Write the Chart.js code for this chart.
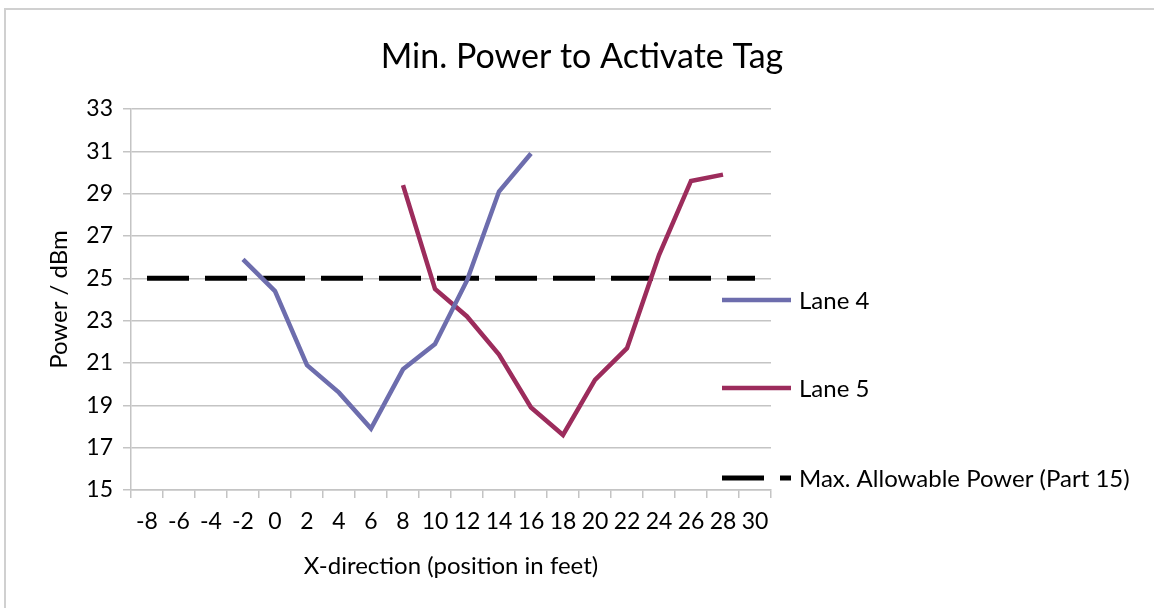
<!DOCTYPE html>
<html>
<head>
<meta charset="utf-8">
<script src="https://cdn.jsdelivr.net/npm/chart.js@4/dist/chart.umd.min.js"></script>
<style>
  html, body { margin: 0; padding: 0; background: #fff; }
  #wrap { position: relative; width: 1154px; height: 608px; }
  #frame { position: absolute; left: 4px; top: 8px; right: 0; bottom: 0; border-top: 2px solid #d0d0d0; border-left: 2px solid #d0d0d0; pointer-events: none; }
</style>
</head>
<body>
<div id="wrap">
  <canvas id="chart" width="1154" height="608"></canvas>
  <div id="frame"></div>
</div>
<script>
// x positions (feet)
const positions = ['-8', '-6', '-4', '-2', '0', '2', '4', '6', '8', '10', '12', '14', '16', '18', '20', '22', '24', '26', '28', '30'];

// min power (dBm) per position
const lane4 = [null, null, null, 25.9, 24.4, 20.9, 19.6, 17.9, 20.7, 21.9, 24.9, 29.1, 30.9, null, null, null, null, null, null, null];
const lane5 = [null, null, null, null, null, null, null, null, 29.4, 24.5, 23.2, 21.4, 18.9, 17.6, 20.2, 21.7, 26.1, 29.6, 29.9, null];
const maxAllowed = [25, 25, 25, 25, 25, 25, 25, 25, 25, 25, 25, 25, 25, 25, 25, 25, 25, 25, 25, 25];

const yTicks = [15, 17, 19, 21, 23, 25, 27, 29, 31, 33];

const FONT = 'Lato, "DejaVu Sans", sans-serif';
const GRID = '#c4c4c4';
const INK = '#000';

// title + legend drawn by hand so they sit where the original has them
const decorations = {
    id: 'decorations',
    afterDraw(chart) {
        const ctx = chart.ctx;
        ctx.save();
        ctx.fillStyle = INK;
        ctx.font = '34px ' + FONT;
        ctx.textAlign = 'center';
        ctx.textBaseline = 'middle';
        ctx.fillText('Min. Power to Activate Tag', 582, 57);

        const rows = [300, 388, 478];
        chart.data.datasets.forEach((ds, i) => {
            const y = rows[i];
            ctx.beginPath();
            ctx.strokeStyle = ds.borderColor;
            ctx.lineWidth = ds.borderWidth;
            ctx.setLineDash(ds.borderDash || []);
            ctx.moveTo(722, y);
            ctx.lineTo(791, y);
            ctx.stroke();
            ctx.setLineDash([]);
            ctx.fillStyle = INK;
            ctx.font = '24px ' + FONT;
            ctx.textAlign = 'left';
            ctx.fillText(ds.label, 799, y + 1);
        });
        ctx.restore();
    }
};

new Chart(document.getElementById('chart'), {
    type: 'line',
    data: {
        labels: positions,
        datasets: [
            { label: 'Lane 4', data: lane4, borderColor: '#6d6dad', borderWidth: 4.5, pointRadius: 0, tension: 0 },
            { label: 'Lane 5', data: lane5, borderColor: '#9c2c5c', borderWidth: 4.5, pointRadius: 0, tension: 0 },
            { label: 'Max. Allowable Power (Part 15)', data: maxAllowed, borderColor: '#000', borderWidth: 5, borderDash: [42, 16], borderCapStyle: 'butt', pointRadius: 0 }
        ]
    },
    options: {
        responsive: false,
        animation: false,
        layout: { padding: { left: 0, right: 383, top: 109, bottom: 0 } },
        plugins: {
            legend: { display: false },
            title: { display: false },
            tooltip: { enabled: false }
        },
        scales: {
            x: {
                offset: true,
                afterFit: s => { s.height = 118; },
                grid: { offset: true, drawOnChartArea: false, drawTicks: true, tickLength: 8, color: GRID, lineWidth: 1.5 },
                border: { color: GRID, width: 1.5 },
                ticks: { color: INK, font: { family: FONT, size: 23 }, padding: 10, maxRotation: 0, autoSkip: false },
                title: { display: true, text: 'X-direction (position in feet)', color: INK, font: { family: FONT, size: 24 }, padding: { bottom: 27, top: 0 } }
            },
            y: {
                min: 15,
                max: 33,
                afterFit: s => { s.width = 131; },
                afterBuildTicks: s => { s.ticks = yTicks.map(v => ({ value: v })); },
                grid: { color: GRID, lineWidth: 1.5, tickLength: 8 },
                border: { color: GRID, width: 1.5 },
                ticks: { color: INK, font: { family: FONT, size: 23 }, padding: 10 },
                title: { display: true, text: 'Power / dBm', color: INK, font: { family: FONT, size: 24 }, padding: { top: 45, bottom: 0 } }
            }
        }
    },
    plugins: [decorations]
});
</script>
</body>
</html>
